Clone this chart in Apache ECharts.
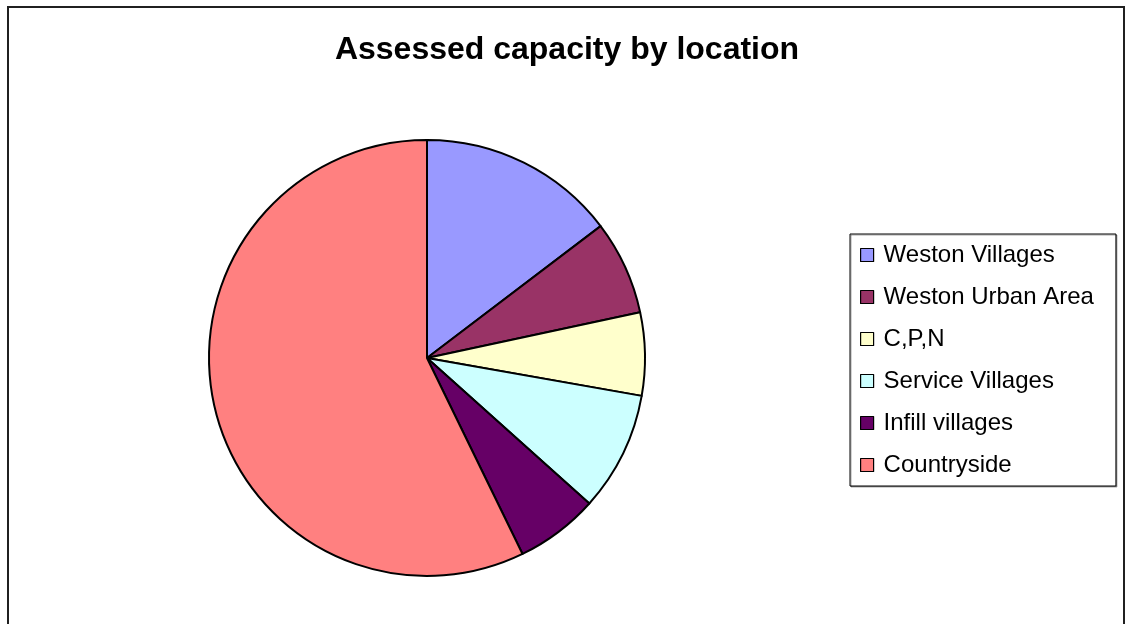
<!DOCTYPE html>
<html>
<head>
<meta charset="utf-8">
<title>Assessed capacity by location</title>
<script src="https://cdn.jsdelivr.net/npm/echarts@6/dist/echarts.min.js"></script>
<style>
  html, body { margin: 0; padding: 0; background: #fff; }
  #chart { width: 1126px; height: 624px; }
</style>
</head>
<body>
<div id="chart"></div>
<script>
// Share of assessed capacity per location (percent)
const locations = ['Weston Villages', 'Weston Urban Area', 'C,P,N', 'Service Villages', 'Infill villages', 'Countryside'];
const capacityShare = [14.66, 6.97, 6.15, 8.85, 6.15, 57.22];
const sliceColors = ['#9999FF', '#993366', '#FFFFCC', '#CCFFFF', '#660066', '#FF8080'];

const chart = echarts.init(document.getElementById('chart'), null, { renderer: 'canvas' });

const pieData = locations.map((name, i) => ({
  name: name,
  value: capacityShare[i],
  itemStyle: { color: sliceColors[i] }
}));

chart.setOption({
  backgroundColor: '#ffffff',
  animation: false,
  title: {
    text: 'Assessed capacity by location',
    left: 567,
    top: 34,
    textAlign: 'center',
    padding: 0,
    textStyle: {
      fontFamily: 'Liberation Sans, Arial, sans-serif',
      fontWeight: 'bold',
      fontSize: 32,
      color: '#000'
    }
  },
  legend: {
    orient: 'vertical',
    left: 850,
    top: 234,
    padding: [9, 22, 9, 10],
    itemWidth: 13,
    itemHeight: 13,
    itemGap: 18,
    icon: 'rect',
    borderColor: '#000',
    borderWidth: 1,
    backgroundColor: '#fff',
    shadowColor: 'rgba(0,0,0,0.35)',
    shadowOffsetX: 1,
    shadowOffsetY: 1,
    shadowBlur: 0,
    itemStyle: { borderColor: '#000', borderWidth: 1.2 },
    textStyle: {
      fontFamily: 'Liberation Sans, Arial, sans-serif',
      fontSize: 24,
      lineHeight: 24,
      color: '#000',
      padding: [0, 0, 0, 5]
    },
    data: locations
  },
  graphic: [{
    type: 'rect',
    shape: { x: 8, y: 7, width: 1116, height: 700 },
    style: { fill: 'none', stroke: '#202020', lineWidth: 2 },
    silent: true,
    z: 0
  }],
  series: [{
    type: 'pie',
    center: [427, 358],
    radius: 218,
    startAngle: 90,
    clockwise: true,
    label: { show: false },
    labelLine: { show: false },
    emphasis: { disabled: true },
    itemStyle: { borderColor: '#000', borderWidth: 2 },
    data: pieData
  }]
});
</script>
</body>
</html>
